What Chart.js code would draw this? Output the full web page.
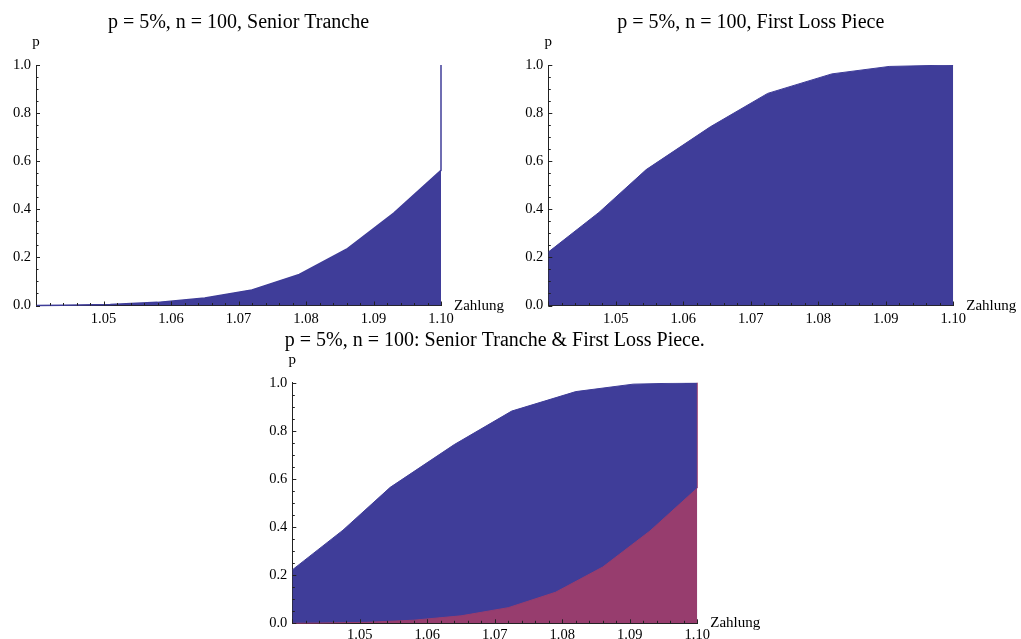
<!DOCTYPE html>
<html><head><meta charset="utf-8">
<script src="https://cdn.jsdelivr.net/npm/chart.js@4"></script>
<style>
body{margin:0;background:#fff;width:1021px;height:639px;overflow:hidden;position:relative}
canvas{position:absolute}
</style></head><body>
<canvas id="c1" width="510" height="330" style="left:0px;top:0px"></canvas>
<canvas id="c2" width="516" height="330" style="left:505px;top:0px"></canvas>
<canvas id="c3" width="520" height="309" style="left:250px;top:330px"></canvas>
<script>
// ---- data ----
const seniorX = [1.04, 1.044, 1.051, 1.058, 1.065, 1.072, 1.079, 1.086, 1.093, 1.10, 1.10];
const seniorY = [0.0, 0.001, 0.004, 0.013, 0.031, 0.065, 0.129, 0.234, 0.384, 0.562, 1.0];
const firstX = [1.04, 1.0475, 1.0545, 1.064, 1.0725, 1.082, 1.0905, 1.10];
const firstY = [0.222, 0.387, 0.565, 0.743, 0.882, 0.963, 0.994, 1.0];
const xTickValues = [1.05, 1.06, 1.07, 1.08, 1.09, 1.10];
const xTickLabels = ['1.05', '1.06', '1.07', '1.08', '1.09', '1.10'];
const yTickValues = [0.0, 0.2, 0.4, 0.6, 0.8, 1.0];
const yTickLabels = ['0.0', '0.2', '0.4', '0.6', '0.8', '1.0'];
const titles = ['p = 5%, n = 100, Senior Tranche', 'p = 5%, n = 100, First Loss Piece', 'p = 5%, n = 100: Senior Tranche & First Loss Piece.'];
const yAxisTitle = 'p';
const xAxisTitle = 'Zahlung';

const BLUE = 'rgb(63,61,153)';
const PINK = 'rgb(151,61,110)';
const AXIS = '#222';
const SERIF = "'Liberation Serif', 'Times New Roman', serif";

const pts = (xs, ys) => xs.map((x, i) => ({x, y: ys[i]}));

const decor = {
  id: 'decor',
  afterDraw(chart, args, opts) {
    const {ctx, chartArea: a, scales: {x, y}} = chart;
    ctx.save();
    ctx.strokeStyle = AXIS;
    ctx.lineWidth = 1;
    ctx.beginPath();
    for (let i = 0; i <= 30; i++) {
      const v = 1.04 + i * 0.002;
      const px = Math.round(x.getPixelForValue(v)) + 0.5;
      const len = (i % 5 === 0) ? 4 : 2.5;
      ctx.moveTo(px, a.bottom);
      ctx.lineTo(px, a.bottom - len);
    }
    for (let i = 0; i <= 20; i++) {
      const v = i * 0.05;
      const py = Math.round(y.getPixelForValue(v)) + 0.5;
      const len = (i % 4 === 0) ? 4 : 2.5;
      ctx.moveTo(a.left, py);
      ctx.lineTo(a.left + len, py);
    }
    ctx.stroke();
    ctx.fillStyle = '#000';
    ctx.textAlign = 'center';
    ctx.textBaseline = 'alphabetic';
    ctx.font = '20px ' + SERIF;
    ctx.fillText(opts.title, (a.left + a.right) / 2, a.top - 37);
    ctx.font = '15px ' + SERIF;
    ctx.fillText(yAxisTitle, a.left, a.top - 19);
    ctx.textAlign = 'left';
    ctx.fillText(xAxisTitle, a.right + 13, a.bottom + 4);
    ctx.restore();
  }
};

function makeChart(id, datasets, title, pad, xH, yW, xPad) {
  new Chart(document.getElementById(id), {
    type: 'line',
    data: {datasets},
    plugins: [decor],
    options: {
      responsive: false,
      animation: false,
      events: [],
      devicePixelRatio: 1,
      layout: {padding: pad},
      elements: {point: {radius: 0}, line: {tension: 0}},
      plugins: {legend: {display: false}, tooltip: {enabled: false}, decor: {title}},
      scales: {
        x: {
          type: 'linear', min: 1.04, max: 1.10,
          afterFit(s) { s.height = xH; },
          afterBuildTicks(s) { s.ticks = xTickValues.map(v => ({value: v})); },
          ticks: {callback: (v, i) => xTickLabels[i], font: {family: SERIF, size: 14.5}, color: '#000', padding: xPad, maxRotation: 0, autoSkip: false},
          grid: {display: false, drawTicks: false},
          border: {display: true, color: AXIS, width: 1}
        },
        y: {
          type: 'linear', min: 0, max: 1,
          afterFit(s) { s.width = yW; },
          afterBuildTicks(s) { s.ticks = yTickValues.map(v => ({value: v})); },
          ticks: {callback: (v, i) => yTickLabels[i], font: {family: SERIF, size: 14.5}, color: '#000', padding: 5, autoSkip: false},
          grid: {display: false, drawTicks: false},
          border: {display: true, color: AXIS, width: 1}
        }
      }
    }
  });
}

makeChart('c1', [
  {data: pts(seniorX, seniorY), fill: 'origin', backgroundColor: BLUE, borderColor: BLUE, borderWidth: 1.5, clip: 3}
], titles[0], {left: 0, top: 65, right: 69, bottom: 0}, 24.5, 36, 5);

makeChart('c2', [
  {data: pts(firstX, firstY), fill: 'origin', backgroundColor: BLUE, borderColor: BLUE, borderWidth: 1}
], titles[1], {left: 0, top: 65, right: 67.7, bottom: 0}, 24.5, 43.3, 5);

makeChart('c3', [
  {data: pts(seniorX, seniorY), fill: 'origin', backgroundColor: PINK, borderColor: PINK, borderWidth: 1, clip: 2},
  {data: pts(firstX, firstY), fill: 'origin', backgroundColor: BLUE, borderColor: BLUE, borderWidth: 1}
], titles[2], {left: 0, top: 52.7, right: 72.7, bottom: 0}, 15.7, 42.3, 3);
</script>
</body></html>
